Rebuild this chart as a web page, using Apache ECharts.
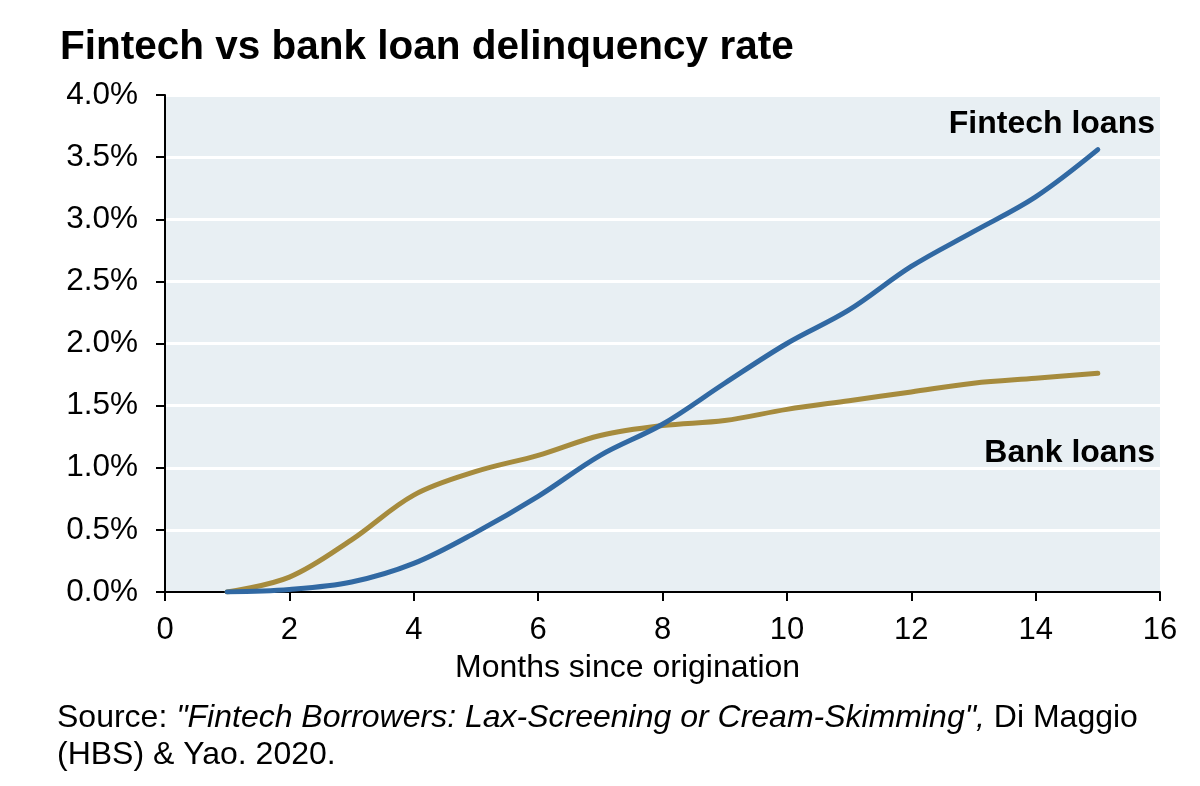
<!DOCTYPE html>
<html>
<head>
<meta charset="utf-8">
<script src="https://cdn.jsdelivr.net/npm/echarts@6/dist/echarts.min.js"></script>
<style>
  html, body { margin: 0; padding: 0; background: #fff; }
  #chart { width: 1200px; height: 786px; }
</style>
</head>
<body>
<div id="chart"></div>
<script>
// months since origination
var months = [1, 2, 3, 4, 5, 6, 7, 8, 9, 10, 11, 12, 13, 14, 15];
// delinquency rate, %
var fintechRate = [0, 0.02, 0.08, 0.23, 0.48, 0.77, 1.1, 1.35, 1.68, 2.0, 2.27, 2.62, 2.9, 3.18, 3.56];
var bankRate = [0, 0.12, 0.42, 0.78, 0.97, 1.1, 1.26, 1.34, 1.38, 1.47, 1.54, 1.61, 1.68, 1.72, 1.76];

function pairs(xs, ys) {
  var out = [];
  for (var i = 0; i < xs.length; ++i) {
    out.push([xs[i], ys[i]]);
  }
  return out;
}

var font = '"Liberation Sans", Arial, sans-serif';
var mychart = echarts.init(document.getElementById('chart'));

var option = {
  animation: false,
  textStyle: { fontFamily: font },
  title: {
    text: 'Fintech vs bank loan delinquency rate',
    left: 55,
    top: 22,
    textStyle: { fontFamily: font, fontSize: 40.5, fontWeight: 'bold', color: '#000' }
  },
  grid: {
    left: 165,
    right: 40,
    top: 95,
    bottom: 194,
    show: true,
    backgroundColor: '#e8eff3',
    borderWidth: 0
  },
  xAxis: {
    type: 'value',
    min: 0,
    max: 16,
    interval: 2,
    axisLine: { onZero: false, lineStyle: { color: '#000', width: 2 } },
    axisTick: { show: true, length: 9, lineStyle: { color: '#000', width: 2 } },
    axisLabel: { fontSize: 31, color: '#000', margin: 23 },
    splitLine: { show: false }
  },
  yAxis: {
    type: 'value',
    min: 0,
    max: 4,
    interval: 0.5,
    axisLine: { show: true, lineStyle: { color: '#000', width: 2 } },
    axisTick: { show: true, length: 9, lineStyle: { color: '#000', width: 2 } },
    axisLabel: {
      fontSize: 31.5,
      color: '#000',
      margin: 27,
      formatter: function (v) { return v.toFixed(1) + '%'; }
    },
    splitLine: { show: true, lineStyle: { color: '#fff', width: 3 } }
  },
  series: [
    {
      name: 'Fintech loans',
      type: 'line',
      data: pairs(months, fintechRate),
      smooth: 0.35,
      showSymbol: false,
      lineStyle: { color: '#3169a3', width: 5, cap: 'round' },
      z: 3
    },
    {
      name: 'Bank loans',
      type: 'line',
      data: pairs(months, bankRate),
      smooth: 0.35,
      showSymbol: false,
      lineStyle: { color: '#a68b3d', width: 5, cap: 'round' },
      z: 2
    }
  ],
  graphic: [
    {
      type: 'text',
      right: 45,
      top: 108,
      style: { text: 'Fintech loans', font: 'bold 32px ' + font, fill: '#000' }
    },
    {
      type: 'text',
      right: 45,
      top: 437,
      style: { text: 'Bank loans', font: 'bold 32px ' + font, fill: '#000' }
    },
    {
      type: 'text',
      left: 455,
      top: 652,
      style: { text: 'Months since origination', font: '32px ' + font, fill: '#000' }
    },
    {
      type: 'text',
      left: 57,
      top: 700,
      style: {
        text: '{n|Source: }{i|"Fintech Borrowers: Lax-Screening or Cream-Skimming",}{n| Di Maggio}\n{n|(HBS) & Yao. 2020.}',
        lineHeight: 37,
        rich: {
          n: { fontSize: 32, fontFamily: font, fill: '#000', lineHeight: 37 },
          i: { fontSize: 32, fontFamily: font, fontStyle: 'italic', fill: '#000', lineHeight: 37 }
        }
      }
    }
  ]
};

mychart.setOption(option);
window.addEventListener('resize', function () {
  mychart.resize();
});
</script>
</body>
</html>
